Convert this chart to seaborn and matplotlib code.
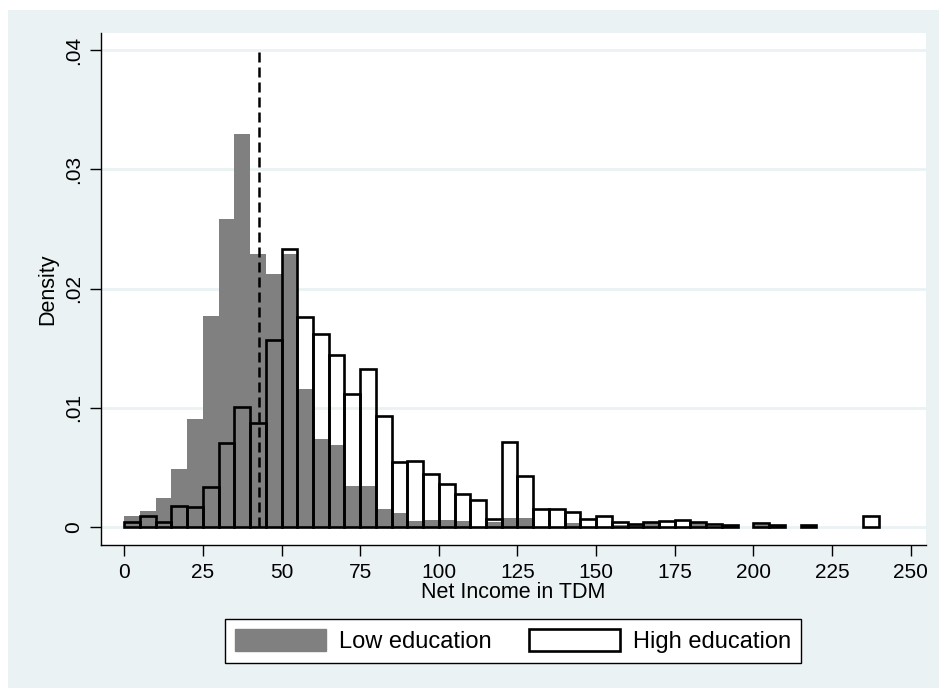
import numpy as np
import pandas as pd
import matplotlib
matplotlib.use("Agg")
import matplotlib.pyplot as plt
from matplotlib.patches import Patch, Rectangle
import seaborn as sns

# 5-TDM Klassen, 0 bis 240
bin_edges = list(range(0, 245, 5))
bin_mids = [e + 2.5 for e in bin_edges[:-1]]

low_density = [
    0.00095, 0.0013, 0.00246, 0.00486, 0.00908, 0.01773, 0.0258, 0.0330,
    0.0229, 0.0212, 0.0229, 0.0116, 0.0074, 0.0069, 0.0034, 0.0034,
    0.0015, 0.0012, 0.0005, 0.00056, 0.00056, 0.00047, 0.0, 0.0004,
    0.00075, 0.00075, 0.0, 0.0, 0.00034, 0.0, 0.0, 0.0002,
    0.00015, 0.0003, 0.0, 0.0, 0.0003, 0.0, 0.0, 0.0,
    0.00015, 0.0, 0.0, 0.0, 0.0, 0.0, 0.0, 0.0,
]
high_density = [
    0.00045, 0.0009, 0.0004, 0.00173, 0.00168, 0.00335, 0.00707, 0.01003,
    0.00874, 0.01566, 0.0233, 0.01759, 0.0162, 0.0144, 0.01117, 0.01329,
    0.00927, 0.00544, 0.0055, 0.00447, 0.00363, 0.00274, 0.00224, 0.00067,
    0.0071, 0.00425, 0.00151, 0.00151, 0.00123, 0.00067, 0.0009, 0.00045,
    0.00025, 0.00045, 0.0005, 0.00056, 0.0004, 0.00025, 0.00017, 0.0,
    0.00034, 0.0002, 0.0, 0.00017, 0.0, 0.0, 0.0, 0.0009,
]
mean_line = 42.8

x_ticks = [0, 25, 50, 75, 100, 125, 150, 175, 200, 225, 250]
y_ticks = [0, 0.01, 0.02, 0.03, 0.04]
y_ticklabels = ["0", ".01", ".02", ".03", ".04"]

bg = "#eaf2f3"
gray = "#808080"

df = pd.DataFrame({"mid": bin_mids, "low": low_density, "high": high_density})

sns.set_style("white")
plt.rcParams["font.family"] = ["Liberation Sans", "DejaVu Sans"]
plt.rcParams["text.color"] = "black"
plt.rcParams["axes.labelcolor"] = "black"
plt.rcParams["xtick.color"] = "black"
plt.rcParams["ytick.color"] = "black"

fig = plt.figure(figsize=(9.39, 6.88), dpi=100, facecolor="white")
fig.patches.append(Rectangle((8 / 939, 0), 1 - 8 / 939, 1 - 10 / 688,
                             transform=fig.transFigure, facecolor=bg,
                             edgecolor="none", zorder=-10))
ax = fig.add_axes([101 / 939, 1 - 545 / 688, 825 / 939, 512 / 688])
ax.set_facecolor("white")

for y in y_ticks:
    ax.axhline(y, color=bg, lw=2, zorder=0)

sns.histplot(data=df, x="mid", weights="low", bins=bin_edges, stat="count",
             color=gray, alpha=1, edgecolor="none", linewidth=0, ax=ax, zorder=2)
sns.histplot(data=df, x="mid", weights="high", bins=bin_edges, stat="count",
             fill=False, color="black", linewidth=1.9, ax=ax, zorder=3)
for p in ax.patches:
    if p.get_height() <= 0:
        p.set_visible(False)

ax.vlines(mean_line, 0, 0.04, colors="black", linestyles=(0, (4, 2)), lw=1.8, zorder=4)

ax.set_xlim(-7.4, 254.9)
ax.set_ylim(-0.00151, 0.04143)
ax.set_xticks(x_ticks)
ax.set_yticks(y_ticks)
ax.set_yticklabels(y_ticklabels, rotation=90, va="center")
ax.tick_params(axis="both", direction="out", length=8, width=1, colors="black",
               labelsize=15, pad=5, left=True, bottom=True)
for s in ["top", "right"]:
    ax.spines[s].set_visible(False)
for s in ["left", "bottom"]:
    ax.spines[s].set_color("black")
    ax.spines[s].set_linewidth(1)

ax.set_xlabel("Net Income in TDM", fontsize=15.5, labelpad=0, color="black")
ax.set_ylabel("Density", fontsize=15.5, labelpad=4, color="black")

handles = [Patch(facecolor=gray, edgecolor=gray, label="Low education"),
           Patch(facecolor="white", edgecolor="black", lw=1.9, label="High education")]
leg = fig.legend(handles=handles, loc="center", bbox_to_anchor=(513 / 939, 1 - 641 / 688),
                 ncol=2, fontsize=17, frameon=True, fancybox=False,
                 handlelength=3.85, handleheight=1.1, handletextpad=0.55,
                 columnspacing=1.6, borderpad=0.4)
leg.get_frame().set_edgecolor("black")
leg.get_frame().set_linewidth(1)
leg.get_frame().set_alpha(1)
for t in leg.get_texts():
    t.set_color("black")

fig.savefig("out.png", dpi=100, facecolor=fig.get_facecolor())
